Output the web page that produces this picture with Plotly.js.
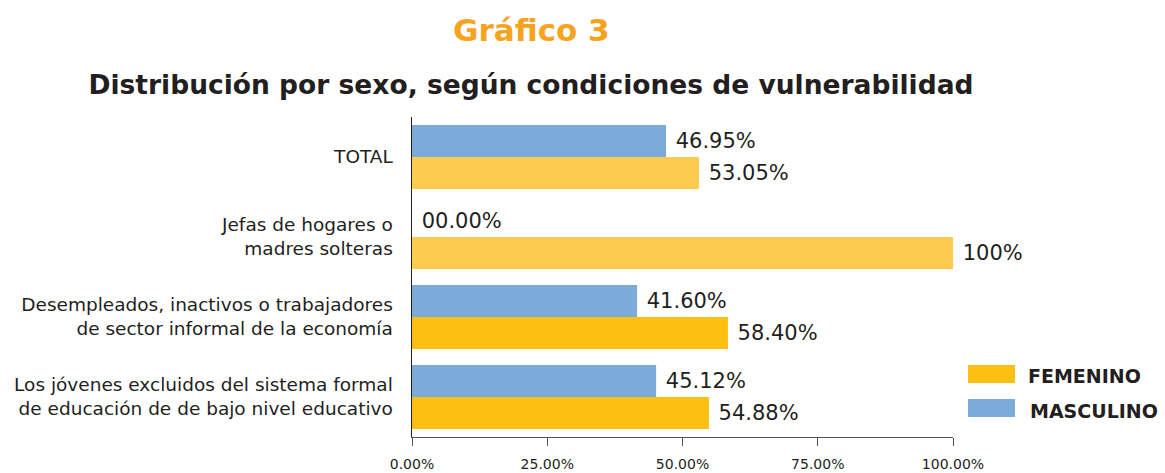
<!DOCTYPE html>
<html>
<head>
<meta charset="utf-8">
<script src="https://cdn.plot.ly/plotly-3.0.1.min.js"></script>
<style>html,body{margin:0;padding:0;background:#fff;}#chart{width:1165px;height:473px;}</style>
</head>
<body>
<div id="chart"></div>
<script>
var categories = [
  "TOTAL",
  "Jefas de hogares o<br>madres solteras",
  "Desempleados, inactivos o trabajadores<br>de sector informal de la economía",
  "Los jóvenes excluidos del sistema formal<br>de educación de de bajo nivel educativo"
];
var masculino = [46.95, 0, 41.60, 45.12];
var femenino = [53.05, 100, 58.40, 54.88];
var masculinoLabels = ["46.95%", "00.00%", "41.60%", "45.12%"];
var femeninoLabels = ["53.05%", "100%", "58.40%", "54.88%"];
var femeninoColors = ["#FDCB4E", "#FDCB4E", "#FDC010", "#FDC010"];
var tickVals = [0, 25, 50, 75, 100];
var tickLabels = ["0.00%", "25.00%", "50.00%", "75.00%", "100.00%"];

var textColor = "#231F20";
var labelFont = {family: "DejaVu Sans", size: 21, color: textColor};

var traces = [
  {
    type: "bar", orientation: "h", name: "MASCULINO",
    y: categories, x: masculino,
    marker: {color: "#7BAADB"},
    text: masculinoLabels, texttemplate: "\u00A0%{text}",
    textposition: "outside", textfont: labelFont,
    cliponaxis: false, hoverinfo: "x+y"
  },
  {
    type: "bar", orientation: "h", name: "FEMENINO",
    y: categories, x: femenino,
    marker: {color: femeninoColors},
    text: femeninoLabels, texttemplate: "\u00A0%{text}",
    textposition: "outside", textfont: labelFont,
    cliponaxis: false, hoverinfo: "x+y"
  }
];

var L = 412, R = 953, T = 117, B = 437;
function px(x) { return (x - L) / (R - L); }
function py(y) { return 1 - (y - T) / (B - T); }

var layout = {
  width: 1165, height: 473,
  margin: {l: L, r: 1165 - R, t: T, b: 473 - B},
  paper_bgcolor: "#fff", plot_bgcolor: "#fff",
  showlegend: false,
  barmode: "group", bargap: 0.2, bargroupgap: 0,
  font: {family: "DejaVu Sans", color: textColor},
  title: {
    text: "<b>Distribución por sexo, según condiciones de vulnerabilidad</b>",
    font: {family: "DejaVu Sans", size: 26.5, color: textColor},
    xref: "container", x: 531 / 1165, xanchor: "center",
    yref: "container", y: 1 - 85 / 473, yanchor: "middle"
  },
  xaxis: {
    range: [0, 100], tickvals: tickVals, ticktext: tickLabels,
    showgrid: false, zeroline: false,
    showline: true, linecolor: "#555", linewidth: 1,
    ticks: "outside", ticklen: 8, tickcolor: "#555",
    ticklabelstandoff: 6,
    tickfont: {family: "DejaVu Sans", size: 14, color: textColor},
    fixedrange: true
  },
  yaxis: {
    type: "category", autorange: "reversed",
    showgrid: false, zeroline: false,
    showline: true, linecolor: "#231F20", linewidth: 1.5,
    ticks: "", ticklabelstandoff: 14,
    tickfont: {family: "DejaVu Sans", size: 18.5, color: textColor},
    fixedrange: true
  },
  shapes: [
    {type: "rect", xref: "paper", yref: "paper", x0: px(968), x1: px(1015), y0: py(383), y1: py(365), fillcolor: "#FDC010", line: {width: 0}},
    {type: "rect", xref: "paper", yref: "paper", x0: px(968), x1: px(1015), y0: py(417), y1: py(399), fillcolor: "#7BAADB", line: {width: 0}}
  ],
  annotations: [
    {text: "<b>Gráfico 3</b>", xref: "paper", yref: "paper", x: px(531), y: py(30), xanchor: "center", yanchor: "middle", showarrow: false,
     font: {family: "DejaVu Sans", size: 31, color: "#F6A31E"}},
    {text: "<b>FEMENINO</b>", xref: "paper", yref: "paper", x: px(1026), y: py(376), xanchor: "left", yanchor: "middle", showarrow: false,
     font: {family: "DejaVu Sans", size: 19, color: textColor}},
    {text: "<b>MASCULINO</b>", xref: "paper", yref: "paper", x: px(1028), y: py(411), xanchor: "left", yanchor: "middle", showarrow: false,
     font: {family: "DejaVu Sans", size: 19, color: textColor}}
  ]
};

Plotly.newPlot("chart", traces, layout, {displayModeBar: false, staticPlot: true});
</script>
</body>
</html>
